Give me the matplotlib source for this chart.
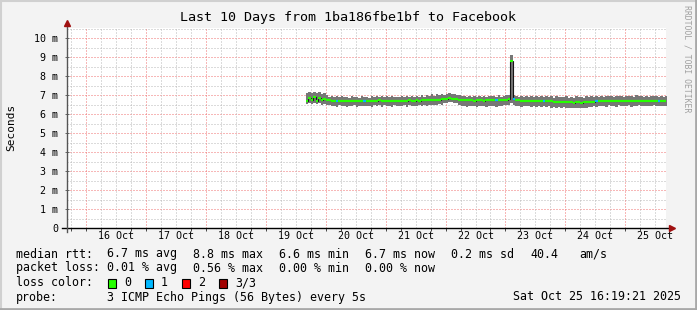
import numpy as np
import pandas as pd
import matplotlib
matplotlib.use('Agg')
import matplotlib.pyplot as plt
from matplotlib.patches import Rectangle
from matplotlib.lines import Line2D

plt.rcParams['font.family'] = ['DejaVu Sans Mono']

# ---------------- data (hourly samples, ms) ----------------
start_sample = '2025-10-19 16:00'
median_ms = [
    6.68, 6.85, 6.72, 6.88, 6.66, 6.82, 6.74, 6.78,
    6.74, 6.72, 6.71, 6.70, 6.69, 6.70, 6.68, 6.69, 6.70, 6.68, 6.69, 6.70,
    6.69, 6.68, 6.70, 6.69, 6.70, 6.68, 6.70, 6.71, 6.70, 6.72, 6.70, 6.71,
    6.70, 6.69, 6.70, 6.71, 6.70, 6.69, 6.70, 6.71, 6.70, 6.72, 6.71, 6.70,
    6.72, 6.71, 6.73, 6.72, 6.74, 6.73, 6.75, 6.74, 6.76, 6.75, 6.77, 6.78,
    6.80, 6.82, 6.81, 6.80, 6.78, 6.76, 6.74, 6.73, 6.72, 6.73, 6.72, 6.71,
    6.72, 6.73, 6.72, 6.71, 6.73, 6.72, 6.74, 6.73, 6.72, 6.74, 6.73, 6.75,
    6.76, 6.78, 8.80, 6.78, 6.74, 6.72, 6.71, 6.70, 6.71, 6.70, 6.69, 6.70,
    6.68, 6.69, 6.70, 6.68, 6.67, 6.68, 6.66, 6.65, 6.64, 6.63, 6.62, 6.63,
    6.62, 6.61, 6.62, 6.60, 6.61, 6.62, 6.60, 6.61, 6.62, 6.63, 6.64, 6.65,
    6.66, 6.67, 6.68, 6.67, 6.68, 6.69, 6.68, 6.67, 6.68, 6.69, 6.68, 6.67,
    6.68, 6.69, 6.67, 6.68, 6.70, 6.69, 6.68, 6.67, 6.69, 6.68, 6.70, 6.69,
    6.68, 6.67, 6.69, 6.68, 6.70,
]
smoke_hi_ms = [
    7.12, 7.18, 7.08, 7.16, 7.10, 7.14, 7.05, 7.08,
    6.98, 6.92, 6.95, 6.88, 6.93, 6.88, 6.96, 6.87, 6.92, 6.86, 6.94, 6.88,
    6.91, 6.86, 6.95, 6.87, 6.92, 6.86, 6.96, 6.90, 6.93, 6.91, 6.97, 6.90,
    6.94, 6.88, 6.96, 6.90, 6.92, 6.87, 6.95, 6.90, 6.93, 6.91, 6.96, 6.89,
    6.97, 6.91, 6.99, 6.92, 7.01, 6.94, 7.03, 6.96, 7.04, 6.98, 7.05, 7.02,
    7.06, 7.08, 7.05, 7.07, 7.00, 6.98, 6.93, 6.97, 6.90, 6.95, 6.90, 6.96,
    6.90, 6.97, 6.90, 6.94, 6.92, 6.97, 6.93, 6.95, 6.90, 6.98, 6.92, 6.97,
    6.99, 7.02, 9.10, 7.00, 6.96, 6.92, 6.97, 6.90, 6.96, 6.91, 6.95, 6.91,
    6.96, 6.90, 6.97, 6.88, 6.94, 6.89, 6.95, 6.86, 6.93, 6.87, 6.92, 6.88,
    6.94, 6.85, 6.92, 6.86, 6.93, 6.87, 6.91, 6.85, 6.94, 6.88, 6.95, 6.90,
    6.97, 6.92, 6.96, 6.91, 6.97, 6.93, 6.96, 6.91, 6.97, 6.93, 6.96, 6.91,
    6.96, 6.93, 6.97, 6.92, 6.98, 6.93, 6.96, 6.91, 6.97, 6.92, 6.96, 6.93,
    6.97, 6.91, 6.96, 6.92, 6.97,
]
smoke_lo_ms = [
    6.55, 6.60, 6.52, 6.58, 6.54, 6.57, 6.50, 6.52,
    6.48, 6.45, 6.40, 6.43, 6.39, 6.45, 6.41, 6.44, 6.38, 6.43, 6.40, 6.45,
    6.39, 6.43, 6.41, 6.44, 6.40, 6.43, 6.38, 6.45, 6.41, 6.46, 6.39, 6.45,
    6.41, 6.43, 6.39, 6.45, 6.40, 6.43, 6.41, 6.45, 6.39, 6.46, 6.42, 6.44,
    6.40, 6.45, 6.43, 6.46, 6.42, 6.47, 6.45, 6.49, 6.47, 6.51, 6.50, 6.56,
    6.60, 6.64, 6.63, 6.60, 6.56, 6.50, 6.42, 6.43, 6.38, 6.43, 6.40, 6.41,
    6.39, 6.43, 6.40, 6.41, 6.38, 6.42, 6.41, 6.43, 6.39, 6.44, 6.40, 6.45,
    6.46, 6.48, 6.60, 6.50, 6.42, 6.44, 6.39, 6.42, 6.40, 6.42, 6.38, 6.42,
    6.37, 6.41, 6.39, 6.40, 6.35, 6.40, 6.34, 6.37, 6.33, 6.35, 6.31, 6.35,
    6.32, 6.33, 6.30, 6.32, 6.31, 6.34, 6.30, 6.33, 6.34, 6.37, 6.36, 6.40,
    6.38, 6.43, 6.40, 6.43, 6.39, 6.45, 6.41, 6.43, 6.39, 6.45, 6.41, 6.43,
    6.40, 6.45, 6.39, 6.44, 6.41, 6.45, 6.40, 6.43, 6.41, 6.44, 6.40, 6.45,
    6.41, 6.43, 6.40, 6.44, 6.41,
]
# samples (hour index) where 1 of 3 pings was lost
loss_one_idx = [12, 23, 76, 83, 95, 116, 141]

x_tick_labels = ['16 Oct', '17 Oct', '18 Oct', '19 Oct', '20 Oct',
                 '21 Oct', '22 Oct', '23 Oct', '24 Oct', '25 Oct']
y_tick_values = [0, 1, 2, 3, 4, 5, 6, 7, 8, 9, 10]
y_tick_labels = ['0'] + [f'{v} m' for v in y_tick_values[1:]]

title = 'Last 10 Days from 1ba186fbe1bf to Facebook'
loss_colors = ['#26ff00', '#00b8ff', '#ff0000', '#a10000']
loss_labels = ['0', '1', '2', '3/3']
view_start = pd.Timestamp('2025-10-15 16:19:21')
view_end = pd.Timestamp('2025-10-25 16:19:21')

# ---------------- figure ----------------
W, H = 697, 310
fig = plt.figure(figsize=(W / 100, H / 100), dpi=100, facecolor='#f3f3f3')

def fx(px):
    return px / W

def fy(py):
    return 1 - py / H

L, R, T, B = 67, 666, 28, 228
ax = fig.add_axes([fx(L), fy(B), (R - L) / W, (B - T) / H])
ax.set_facecolor('white')
ax.set_xlim(view_start, view_end)
ax.set_ylim(0, (B - T) / 19.0)
for s in ax.spines.values():
    s.set_visible(False)

# grid (dotted)
grid_gray = '#b8b8b8'
grid_red = '#f07070'
for v in np.arange(0.5, 10.6, 0.5):
    col = grid_red if abs(v - round(v)) < 1e-6 else grid_gray
    ax.axhline(v, color=col, lw=0.72, ls=(0, (1, 2)), zorder=1)
for t in pd.date_range('2025-10-15 18:00', view_end, freq='6h'):
    col = grid_red if t.hour == 0 else grid_gray
    ax.axvline(t, color=col, lw=0.72, ls=(0, (1, 2)), zorder=1)

# data
times = pd.date_range(start_sample, periods=len(median_ms), freq='h')
edges = times.append(pd.DatetimeIndex([times[-1] + pd.Timedelta('1h')]))
lo = np.array(smoke_lo_ms)
hi = np.array(smoke_hi_ms)
med = np.array(median_ms)
ax.fill_between(edges, np.append(lo, lo[-1]), np.append(hi, hi[-1]),
                step='post', color='#777777', lw=0, zorder=2)
ax.stairs(med, edges, color='#151515', lw=0.8, baseline=None, zorder=3)
seg_cols = [loss_colors[1] if i in loss_one_idx else loss_colors[0]
            for i in range(len(med))]
ax.hlines(med, edges[:-1], edges[1:], colors=seg_cols, lw=1.6, zorder=4)

# ticks
noon = pd.date_range('2025-10-16 12:00', periods=len(x_tick_labels), freq='D')
ax.set_xticks(noon)
ax.set_xticklabels(x_tick_labels)
ax.set_xticks(pd.date_range('2025-10-15 18:00', view_end, freq='6h'), minor=True)
ax.tick_params(axis='x', which='major', length=0, pad=2.5, labelsize=7.2)
ax.tick_params(axis='x', which='minor', length=2, width=0.7, direction='out',
               color='#444444')
ax.set_yticks(y_tick_values)
ax.set_yticklabels(y_tick_labels)
ax.tick_params(axis='y', which='major', length=3, width=0.7, direction='inout',
               color='#666666', pad=5, labelsize=7.2)

# axes lines with arrows
ax.add_line(Line2D([-5 / (R - L), 1 + 6 / (R - L)], [0, 0], transform=ax.transAxes,
                   color='black', lw=1.0, clip_on=False, zorder=6))
ax.add_line(Line2D([0, 0], [-4 / (B - T), 1 + 4 / (B - T)], transform=ax.transAxes,
                   color='#555555', lw=1.0, clip_on=False, zorder=6))
ax.plot([1 + 6 / (R - L)], [0], marker='>', color='#a01010', ms=4,
        transform=ax.transAxes, clip_on=False, zorder=7)
ax.plot([0], [1 + 5 / (B - T)], marker='^', color='#a01010', ms=4,
        transform=ax.transAxes, clip_on=False, zorder=7)

# texts
fig.text(0.5, fy(18), title, ha='center', va='center', fontsize=9.6)
fig.text(fx(11), fy(127), 'Seconds', rotation=90, ha='center', va='center',
         fontsize=8)
fig.text(fx(687), fy(5), 'RRDTOOL / TOBI OETIKER', rotation=270, ha='center',
         va='top', fontsize=5.9, color='#a0a0a0')

fs = 8.4
rows = [
    (254, [(16, 'median rtt:'), (107, '6.7 ms avg'), (193, '8.8 ms max'),
           (279, '6.6 ms min'), (365, '6.7 ms now'), (451, '0.2 ms sd'),
           (530, '40.4'), (579, 'am/s')]),
    (268, [(16, 'packet loss:'), (107, '0.01 % avg'), (193, '0.56 % max'),
           (279, '0.00 % min'), (365, '0.00 % now')]),
    (283, [(16, 'loss color:')]),
    (297, [(16, 'probe:'), (107, '3 ICMP Echo Pings (56 Bytes) every 5s'),
           (513, 'Sat Oct 25 16:19:21 2025')]),
]
for y, items in rows:
    for x, s in items:
        fig.text(fx(x), fy(y), s, ha='left', va='center', fontsize=fs)

for i, (c, lab) in enumerate(zip(loss_colors, loss_labels)):
    x0 = 108 + i * 37
    fig.patches.append(Rectangle((fx(x0), fy(288)), 8 / W, 9 / H,
                                 transform=fig.transFigure, facecolor=c,
                                 edgecolor='black', lw=0.8))
    fig.text(fx(x0 + 16), fy(283), lab, ha='left', va='center', fontsize=fs)

# border
fig.add_artist(Line2D([0, 1], [fy(1), fy(1)], color='#d0d0d0', lw=1.5))
fig.add_artist(Line2D([fx(1), fx(1)], [0, 1], color='#d0d0d0', lw=1.5))
fig.add_artist(Line2D([0, 1], [fy(H - 1.5), fy(H - 1.5)], color='#a8a8a8', lw=2))
fig.add_artist(Line2D([fx(W - 1.5), fx(W - 1.5)], [0, 1], color='#a8a8a8', lw=2))

fig.savefig('out.png', dpi=100, facecolor=fig.get_facecolor())
